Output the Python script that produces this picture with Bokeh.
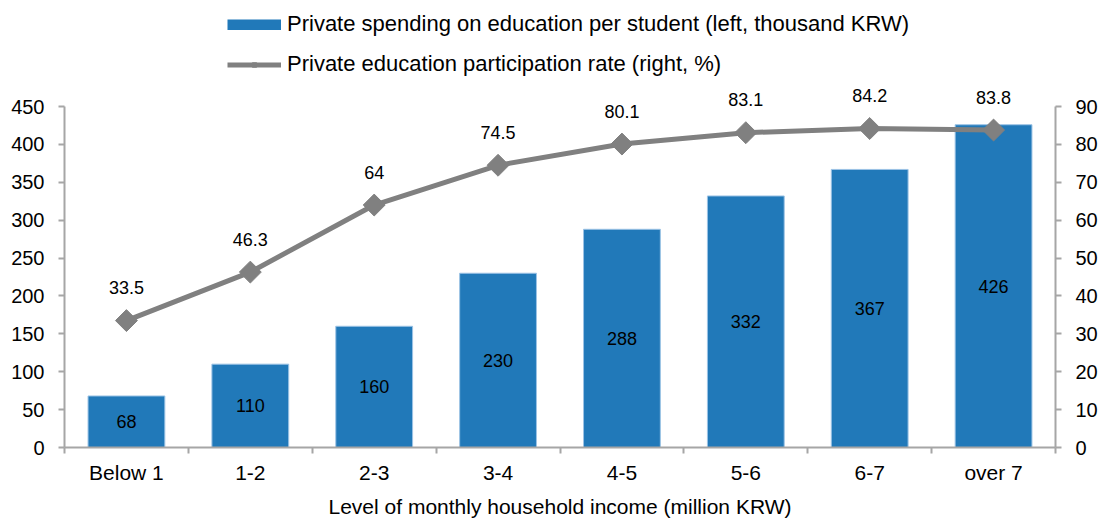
import numpy as np
from bokeh.plotting import figure
from bokeh.models import (Range1d, LinearAxis, FixedTicker, ColumnDataSource,
                          LabelSet, Legend, LegendItem)
from bokeh.core.properties import value
from bokeh.embed import file_html
from bokeh.resources import INLINE

categories = ["Below 1", "1-2", "2-3", "3-4", "4-5", "5-6", "6-7", "over 7"]
spending = [68, 110, 160, 230, 288, 332, 367, 426]
participation = [33.5, 46.3, 64, 74.5, 80.1, 83.1, 84.2, 83.8]
participation_labels = ["33.5", "46.3", "64", "74.5", "80.1", "83.1", "84.2", "83.8"]
left_ticks = list(range(0, 451, 50))
right_ticks = list(range(0, 91, 10))
series_names = ["Private spending on education per student (left, thousand KRW)",
                "Private education participation rate (right, %)"]
x_title = "Level of monthly household income (million KRW)"

FONT = "Liberation Sans"
AX = "#a6a6a6"
BLUE = "#2179b9"
EDGE = "#9cc3e5"
GRAY = "#808080"

W, H = 1100, 520
AXIS_PX = 344          # pixel height of the 0..450 axis
HEAD_PX = 107          # room above the axes for legend and top labels
L_MAX, R_MAX = left_ticks[-1], right_ticks[-1]
scale = (AXIS_PX + HEAD_PX) / AXIS_PX

xs = list(range(1, len(categories) + 1))
src = ColumnDataSource(dict(
    x=xs, spend=spending, half=[v / 2 for v in spending],
    spend_lbl=[str(v) for v in spending],
    part=participation, part_lbl=participation_labels,
))

p = figure(width=W, height=H, output_backend="svg", toolbar_location=None,
           x_range=Range1d(0.5, len(categories) + 0.5),
           y_range=Range1d(0, L_MAX * scale),
           min_border_left=64, min_border_right=42, min_border_top=0,
           min_border_bottom=H - AXIS_PX - HEAD_PX)
p.extra_y_ranges = {"right": Range1d(0, R_MAX * scale)}
p.outline_line_color = None
p.xgrid.visible = False
p.ygrid.visible = False

p.vbar(x="x", top="spend", width=0.62, source=src, fill_color=BLUE,
       line_color=EDGE, line_width=1)
ln = p.line(x="x", y="part", source=src, y_range_name="right",
            line_color=GRAY, line_width=5)
pts = p.scatter(x="x", y="part", source=src, y_range_name="right", marker="square",
                angle=np.pi / 4, size=15.5, fill_color=GRAY, line_color=GRAY)
# legend swatch for the bars (drawn outside the visible range)
swatch = p.line(x=[-10, -9], y=[-10, -9], line_color=BLUE, line_width=11,
                line_cap="butt")

xa = p.xaxis[0]
xa.ticker = FixedTicker(ticks=xs, minor_ticks=[x - 0.5 for x in xs] + [xs[-1] + 0.5])
xa.major_label_overrides = {x: c for x, c in zip(xs, categories)}
xa.major_tick_line_color = None
xa.major_tick_in = 0
xa.major_tick_out = 6
xa.minor_tick_in = 0
xa.minor_tick_out = 6
xa.minor_tick_line_color = AX
xa.minor_tick_line_width = 2
xa.major_label_standoff = 7
xa.axis_label = x_title
xa.axis_label_standoff = 8

ya = p.yaxis[0]
ya.ticker = FixedTicker(ticks=left_ticks)
ya.bounds = (0, L_MAX)
ya.minor_tick_line_color = None

ra = LinearAxis(y_range_name="right", ticker=FixedTicker(ticks=right_ticks),
                bounds=(0, R_MAX))
ra.minor_tick_line_color = None
p.add_layout(ra, "right")

for ax in [xa, ya, ra]:
    ax.axis_line_color = AX
    ax.axis_line_width = 2
    ax.major_label_text_font = FONT
    ax.major_label_text_color = "black"
    ax.axis_label_text_font = FONT
    ax.axis_label_text_font_size = "21px"
    ax.axis_label_text_font_style = "normal"
    ax.axis_label_text_color = "black"
xa.major_label_text_font_size = "21px"
for ax in [ya, ra]:
    ax.major_label_text_font_size = "20px"
    ax.major_tick_line_color = AX
    ax.major_tick_line_width = 2
    ax.major_tick_in = 0
    ax.major_tick_out = 6
    ax.major_label_standoff = 14

p.add_layout(LabelSet(x="x", y="half", text="spend_lbl", source=src,
                      text_align="center", text_baseline="middle",
                      text_font=value(FONT), text_font_size=value("18px"),
                      text_color="black"))
p.add_layout(LabelSet(x="x", y="part", text="part_lbl", source=src, y_range_name="right",
                      y_offset=33, text_align="center", text_baseline="middle",
                      text_font=value(FONT), text_font_size=value("18px"),
                      text_color="black"))

legend = Legend(items=[
    LegendItem(label=series_names[0], renderers=[swatch]),
    LegendItem(label=series_names[1], renderers=[ln, pts]),
], location="top_right", orientation="vertical",
    glyph_width=54, glyph_height=11, label_height=20, label_width=757, spacing=14,
    label_standoff=6, padding=0, margin=11,
    label_text_font=FONT, label_text_font_size="22px", label_text_color="black",
    border_line_color=None, background_fill_alpha=0)
p.add_layout(legend)

open("out.html", "w").write(file_html(p, INLINE))
